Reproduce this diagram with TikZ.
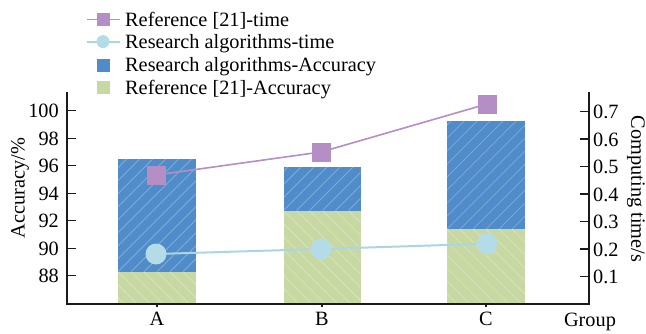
\documentclass[tikz,border=0pt]{standalone}
\usepackage{fontspec}
\setmainfont{Liberation Serif}
\usetikzlibrary{backgrounds}
\definecolor{barblue}{HTML}{508CC9}
\definecolor{bargreen}{HTML}{C8D8A2}
\definecolor{refpurple}{HTML}{B68EC6}
\definecolor{reslight}{HTML}{B4DCE8}
\definecolor{reslightline}{HTML}{AAD6E4}
\definecolor{axisgray}{HTML}{1A1A1A}
\pgfdeclarelayer{series}
\pgfsetlayers{background,series,main}
\tikzset{
  axisline/.style={line width=1.5pt, color=axisgray, line cap=rect},
  tickline/.style={line width=1.3pt, color=axisgray},
  hatch/.style={white, opacity=0.28, line width=0.8pt},
  lbl/.style={inner sep=0pt, font=\fontsize{20.3}{22}\selectfont},
  sqmark/.style={rectangle, fill=refpurple, minimum size=19pt, inner sep=0pt},
  dotmark/.style={circle, fill=reslight, minimum size=21pt, inner sep=0pt},
  sqkey/.style={rectangle, fill=refpurple, minimum size=13pt, inner sep=0pt},
  dotkey/.style={circle, fill=reslight, minimum size=13pt, inner sep=0pt},
  barkey/.style={rectangle, minimum size=13pt, inner sep=0pt},
  refline/.style={refpurple, line width=1.6pt},
  resline/.style={reslightline, line width=2pt},
}
% bar segment with up-right hatching: left, right, bottom, top, colour
\newcommand\barne[5]{%
  \fill[#5] (#1,#3) rectangle (#2,#4);
  \begin{scope}
    \clip (#1,#3) rectangle (#2,#4);
    \foreach \s in {-260,-247,...,100}{\draw[hatch] ({#1+\s},#3) -- ++(300,-300);}
  \end{scope}}
% bar segment with down-right hatching: left, right, bottom, top, colour
\newcommand\barnw[5]{%
  \fill[#5] (#1,#3) rectangle (#2,#4);
  \begin{scope}
    \clip (#1,#3) rectangle (#2,#4);
    \foreach \s in {-260,-247,...,100}{\draw[hatch] ({#1+\s},#4) -- ++(300,300);}
  \end{scope}}
\begin{document}
\begin{tikzpicture}[x=1pt,y=-1pt]
\useasboundingbox (0,0) rectangle (646,333);

% stacked bars (accuracy)
\begin{pgfonlayer}{background}
\barnw{118}{196}{304}{271.7}{bargreen}
\barne{118}{196}{271.7}{158.9}{barblue}
\barnw{283.5}{360.5}{304}{210.5}{bargreen}
\barne{283.5}{360.5}{210.5}{166.5}{barblue}
\barnw{447}{525}{304}{229.1}{bargreen}
\barne{447}{525}{229.1}{121.1}{barblue}
\end{pgfonlayer}

% axes
\draw[axisline] (67,93) -- (67,304) -- (589,304) -- (589,93);
\foreach \v/\y in {100/110.7,98/138.2,96/165.7,94/193.2,92/220.7,90/248.2,88/275.7}{
  \draw[tickline] (67,\y) -- (76,\y);
  \node[lbl, anchor=base east] at (59,\y+7) {\v};
}
\foreach \v/\y in {0.7/111.5,0.6/139,0.5/166.5,0.4/194,0.3/221.5,0.2/249,0.1/276.5}{
  \draw[tickline] (580,\y) -- (589,\y);
  \node[lbl, anchor=base west] at (593,\y+7) {\v};
}
\foreach \c/\x in {A/157,B/322,C/486}{
  \draw[tickline] (\x,304) -- (\x,307);
  \node[lbl, anchor=base] at (\x,325) {\c};
}
\node[lbl, anchor=base] at (590,326) {Group};
\node[lbl, rotate=90] at (20,188) {Accuracy/\%};
\node[lbl, rotate=-90] at (636,189) {Computing time/s};

% computing time series
\node[sqmark] (pa) at (156,175) {};
\node[sqmark] (pb) at (321,152) {};
\node[sqmark] (pc) at (487,104) {};
\node[dotmark] (da) at (156,254) {};
\node[dotmark] (db) at (321,249) {};
\node[dotmark] (dc) at (487,243.7) {};
\begin{pgfonlayer}{series}
\draw[refline] (pa.center) -- (pb.center) -- (pc.center);
\draw[resline] (da.center) -- (db.center) -- (dc.center);
\end{pgfonlayer}

% legend
\node[sqkey] (k1) at (103,19.3) {};
\node[dotkey] (k2) at (103,41.6) {};
\node[barkey, fill=barblue] (k3) at (103,65) {};
\node[barkey, fill=bargreen] (k4) at (103,87.6) {};
\coordinate (k1l) at (87,19.3);  \coordinate (k1r) at (120,19.3);
\coordinate (k2l) at (87,41.6);  \coordinate (k2r) at (120,41.6);
\begin{pgfonlayer}{series}
\draw[refline] (k1l) -- (k1r);
\draw[resline] (k2l) -- (k2r);
\end{pgfonlayer}
\node[lbl, anchor=base west] (t1) at (125,26) {Reference [21]-time};
\node[lbl, anchor=base west] (t2) at (125,48.3) {Research algorithms-time};
\node[lbl, anchor=base west] (t3) at (125,71.7) {Research algorithms-Accuracy};
\node[lbl, anchor=base west] (t4) at (125,94.3) {Reference [21]-Accuracy};
\end{tikzpicture}
\end{document}
